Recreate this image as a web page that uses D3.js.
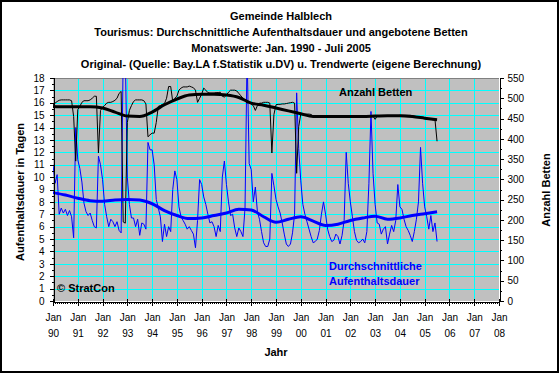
<!DOCTYPE html>
<html>
<head>
<meta charset="utf-8">
<script src="https://cdn.jsdelivr.net/npm/d3@7"></script>
<style>
body { margin: 0; background: #fff; }
svg { display: block; font-family: Arial, "Liberation Sans", sans-serif; }
</style>
</head>
<body>
<svg id="chart" width="560" height="374"></svg>
<script>
// Titelzeilen
var titel = [
    "Gemeinde Halblech",
    "Tourismus: Durchschnittliche Aufenthaltsdauer und angebotene Betten",
    "Monatswerte: Jan. 1990 - Juli 2005",
    "Original- (Quelle: Bay.LA f.Statistik u.DV) u. Trendwerte (eigene Berechnung)"
];

// Achsenbeschriftungen
var jahre = ["90","91","92","93","94","95","96","97","98","99","00","01","02","03","04","05","06","07","08"];
var tageTicks = [0,1,2,3,4,5,6,7,8,9,10,11,12,13,14,15,16,17,18];
var bettenTicks = [0,50,100,150,200,250,300,350,400,450,500,550];

// Monatswerte Jan 1990 - Jul 2005: angebotene Betten
var betten = [
    484,488,492,495,496,496,496,496,496,494,455,345, //1990
    472,480,490,494,494,494,496,500,505,505,365,470, //1991
    478,482,488,490,490,492,495,500,512,517,195,192, //1992
    440,470,482,492,496,496,496,496,494,486,405,410, //1993
    414,414,440,480,482,485,487,500,529,529,492,500, //1994
    505,520,525,528,528,528,530,528,526,520,490,500, //1995
    510,525,520,514,513,513,513,514,514,515,505,503, //1996
    508,515,520,520,520,518,512,506,500,496,488,492, //1997
    485,482,470,482,488,488,490,490,490,488,365,460, //1998
    484,485,485,486,486,487,488,489,490,488,315,430, //1999
    461,461,461,461,461,460,456,455,455,455,455,455, //2000
    455,455,455,455,454,454,455,455,455,455,455,455, //2001
    455,455,455,455,455,455,455,456,456,456,456,456, //2002
    448,456,456,456,456,456,456,456,456,457,457,457, //2003
    458,458,458,458,458,458,457,456,455,453,452,451, //2004
    450,449,449,448,447,447,394                      //2005
];

// Monatswerte: durchschnittliche Aufenthaltsdauer in Tagen
var dauer = [
    11.0,9.5,10.2,7.0,7.5,7.1,7.4,6.9,7.3,6.8,5.1,14.0, //1990
    11.4,10.7,9.6,7.9,7.2,6.9,7.1,6.5,6.0,5.9,11.7,11.0, //1991
    9.8,7.8,6.8,6.0,6.6,6.4,6.0,6.4,5.7,5.5,20,20,       //1992
    10.0,7.8,6.7,6.7,6.0,6.6,5.3,6.3,6.2,5.8,12.8,12.2, //1993
    12.2,11.0,8.2,7.5,6.8,4.8,6.2,5.2,6.0,5.6,9.0,10.5, //1994
    9.8,7.6,6.8,6.5,6.2,5.8,6.0,5.7,5.4,4.3,6.5,9.8,    //1995
    9.4,8.4,7.8,7.0,6.3,6.4,6.0,5.2,6.1,5.6,10.0,11.3,  //1996
    9.4,8.0,6.9,7.0,5.9,5.2,5.9,5.6,5.2,7.5,20,11.1,    //1997
    10.6,8.0,9.2,7.2,6.6,5.6,4.7,4.4,4.4,5.0,10.3,9.3,  //1998
    8.2,7.6,7.1,6.3,5.4,4.6,4.4,4.6,5.5,7.0,16.8,12.3,  //1999
    9.7,7.8,7.0,6.4,5.8,5.2,4.7,4.8,5.0,5.7,7.0,8.0,    //2000
    7.0,5.8,5.2,4.8,4.9,5.4,5.2,4.6,5.3,6.5,12.0,9.5,   //2001
    8.0,6.8,5.6,4.9,4.7,4.8,5.0,4.7,5.6,9.5,15.3,10.3,  //2002
    7.8,6.3,6.2,5.4,5.8,6.0,4.6,5.4,6.1,5.6,6.5,9.4,    //2003
    7.6,7.4,6.6,6.0,5.7,5.3,4.8,5.6,6.6,8.0,12.4,9.5,   //2004
    7.6,6.8,5.8,6.9,5.6,6.3,4.8                         //2005
];

var trendMonate = [0,6,12,18,24,30,36,42,48,54,60,66,72,78,84,90,96,102,108,114,120,126,132,138,144,150,156,162,168,174,180,186];
var bettenTrend = [480,479,479,479,476,466,456,455,466,484,498,508,510,510,508,502,488,483,476,469,462,455,455,455,455,455,456,457,457,455,451,447];
var dauerTrend = [8.75,8.55,8.3,8.1,8.05,8.15,8.2,8.15,7.85,7.3,6.9,6.65,6.7,6.9,7.1,7.4,7.35,6.8,6.35,6.6,6.8,6.45,6.1,6.2,6.5,6.7,6.85,6.6,6.7,6.9,7.05,7.2];

var svg = d3.select("#chart");
var pLeft = 53, pRight = 499, pTop = 78, pBottom = 301;

var x = d3.scaleLinear().domain([0, 216]).range([pLeft, pRight]);
var yL = d3.scaleLinear().domain([0, 18]).range([pBottom, pTop]);
var yR = d3.scaleLinear().domain([0, 550]).range([pBottom, pTop]);

// Rahmen
svg.append("rect").attr("x", 1).attr("y", 1).attr("width", 557).attr("height", 371)
    .attr("fill", "#fff").attr("stroke", "#000").attr("stroke-width", 2);

// Titel
svg.selectAll("text.titel").data(titel).enter().append("text")
    .attr("class", "titel")
    .attr("x", 281)
    .attr("y", function(d, i) { return 16 + i * 16; })
    .attr("dy", "0.35em")
    .attr("text-anchor", "middle")
    .style("font-size", "11px").style("font-weight", "bold")
    .text(function(d) { return d; });

// Zeichenflaeche
svg.append("rect").attr("x", pLeft).attr("y", pTop)
    .attr("width", pRight - pLeft).attr("height", pBottom - pTop)
    .attr("fill", "#c0c0c0");

var grid = svg.append("g").attr("shape-rendering", "crispEdges");
grid.selectAll("line.h").data(tageTicks.slice(1, 18)).enter().append("line")
    .attr("x1", pLeft).attr("x2", pRight)
    .attr("y1", function(d) { return Math.round(yL(d)) + 0.5; })
    .attr("y2", function(d) { return Math.round(yL(d)) + 0.5; })
    .attr("stroke", "#00ffff");
grid.selectAll("line.v").data(jahre.slice(1, 18)).enter().append("line")
    .attr("y1", pTop).attr("y2", pBottom)
    .attr("x1", function(d, i) { return Math.round(x((i + 1) * 12)) + 0.5; })
    .attr("x2", function(d, i) { return Math.round(x((i + 1) * 12)) + 0.5; })
    .attr("stroke", "#00ffff");
grid.append("line").attr("x1", pLeft).attr("x2", pRight).attr("y1", pTop + 0.5).attr("y2", pTop + 0.5)
    .attr("stroke", "#808080");

// Daten
svg.append("clipPath").attr("id", "clip").append("rect")
    .attr("x", pLeft).attr("y", pTop).attr("width", pRight - pLeft).attr("height", pBottom - pTop);
var plot = svg.append("g").attr("clip-path", "url(#clip)");

var lineDauer = d3.line().x(function(d, i) { return x(i); }).y(function(d) { return yL(d); });
var lineBetten = d3.line().x(function(d, i) { return x(i); }).y(function(d) { return yR(d); });
var trendDauer = d3.line().x(function(d, i) { return x(trendMonate[i]); }).y(function(d) { return yL(d); }).curve(d3.curveMonotoneX);
var trendBetten = d3.line().x(function(d, i) { return x(trendMonate[i]); }).y(function(d) { return yR(d); }).curve(d3.curveMonotoneX);

plot.append("path").attr("d", lineDauer(dauer)).attr("fill", "none").attr("stroke", "#0000ff").attr("stroke-width", 1);
plot.append("path").attr("d", lineBetten(betten)).attr("fill", "none").attr("stroke", "#000").attr("stroke-width", 1);
plot.append("path").attr("d", trendDauer(dauerTrend)).attr("fill", "none").attr("stroke", "#0000ff").attr("stroke-width", 3);
plot.append("path").attr("d", trendBetten(bettenTrend)).attr("fill", "none").attr("stroke", "#000").attr("stroke-width", 3);

// Achsen
function styleAxis(g) {
    g.attr("shape-rendering", "crispEdges");
    g.selectAll("path, line").attr("stroke", "#000");
    g.selectAll("text").style("font-size", "10px").attr("fill", "#000").style("font-family", "Arial, 'Liberation Sans', sans-serif");
}

var halbe = tageTicks.slice(0, 18).map(function(d) { return d + 0.5; });
svg.append("g").attr("transform", "translate(" + (pLeft + 0.5) + ",0)")
    .call(d3.axisLeft(yL).tickValues(halbe).tickSize(2).tickFormat(""))
    .call(styleAxis);
svg.append("g").attr("transform", "translate(" + (pLeft + 0.5) + ",0)")
    .call(d3.axisLeft(yL).tickValues(tageTicks).tickSize(4).tickSizeOuter(0).tickPadding(5))
    .call(styleAxis);

var viertel = bettenTicks.slice(0, 11).map(function(d) { return d + 25; });
svg.append("g").attr("transform", "translate(" + (pRight + 0.5) + ",0)")
    .call(d3.axisRight(yR).tickValues(viertel).tickSize(2).tickFormat(""))
    .call(styleAxis);
svg.append("g").attr("transform", "translate(" + (pRight + 0.5) + ",0)")
    .call(d3.axisRight(yR).tickValues(bettenTicks).tickSize(4).tickSizeOuter(0).tickPadding(4))
    .call(styleAxis);

var monate = d3.range(0, 217);
svg.append("g").attr("transform", "translate(0," + (pBottom + 0.5) + ")")
    .call(d3.axisBottom(x).tickValues(monate).tickSize(2).tickFormat(""))
    .call(styleAxis);
var jahrTicks = jahre.map(function(d, i) { return i * 12; });
var gx = svg.append("g").attr("transform", "translate(0," + (pBottom + 0.5) + ")")
    .call(d3.axisBottom(x).tickValues(jahrTicks).tickSize(4).tickSizeOuter(0).tickFormat(function(d, i) { return jahre[i]; }))
    .call(styleAxis);
gx.selectAll(".tick line").attr("y1", -3);
gx.selectAll(".tick text").each(function(d, i) {
    var t = d3.select(this);
    t.text(null).attr("y", 0).attr("dy", null);
    t.append("tspan").attr("x", 0).attr("y", 19).text("Jan");
    t.append("tspan").attr("x", 0).attr("y", 35).text(jahre[i]);
});

// Achsentitel
svg.append("text").attr("transform", "translate(20,192) rotate(-90)")
    .attr("text-anchor", "middle").attr("dy", "0.35em")
    .style("font-size", "11px").style("font-weight", "bold")
    .text("Aufenthaltsdauer in Tagen");
svg.append("text").attr("transform", "translate(546,190) rotate(-90)")
    .attr("text-anchor", "middle").attr("dy", "0.35em")
    .style("font-size", "11px").style("font-weight", "bold")
    .text("Anzahl Betten");
svg.append("text").attr("x", 276).attr("y", 352).attr("dy", "0.35em")
    .attr("text-anchor", "middle")
    .style("font-size", "11px").style("font-weight", "bold")
    .text("Jahr");

// Beschriftungen im Diagramm
svg.append("text").attr("x", 339).attr("y", 92).attr("dy", "0.35em")
    .style("font-size", "11px").style("font-weight", "bold")
    .text("Anzahl Betten");
svg.append("text").attr("x", 329).attr("y", 266).attr("dy", "0.35em")
    .style("font-size", "11px").style("font-weight", "bold").attr("fill", "#0000ff")
    .text("Durchschnittliche");
svg.append("text").attr("x", 329).attr("y", 281).attr("dy", "0.35em")
    .style("font-size", "11px").style("font-weight", "bold").attr("fill", "#0000ff")
    .text("Aufenthaltsdauer");
svg.append("text").attr("x", 57).attr("y", 288).attr("dy", "0.35em")
    .style("font-size", "11px").style("font-weight", "bold")
    .text("\u00a9 StratCon");
</script>
</body>
</html>
